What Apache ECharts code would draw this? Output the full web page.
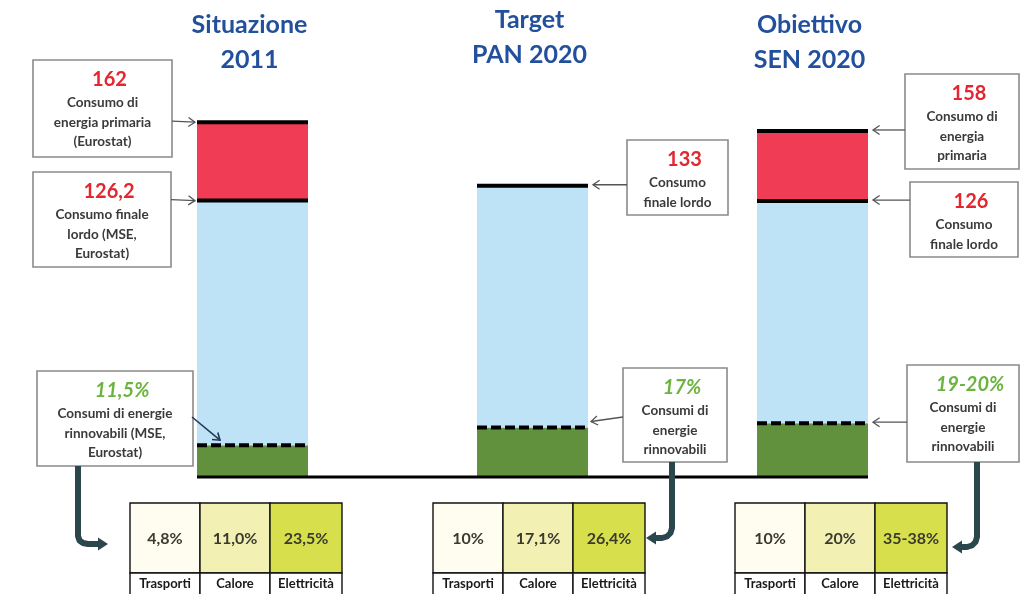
<!DOCTYPE html>
<html>
<head>
<meta charset="utf-8">
<script src="https://cdn.jsdelivr.net/npm/echarts@6/dist/echarts.min.js"></script>
<style>
  html, body { margin: 0; padding: 0; background: #ffffff; }
  #chart { width: 1023px; height: 594px; }
</style>
</head>
<body>
<div id="chart"></div>
<script>
// Scenarios (column headings)
const scenarioTitles = [['Situazione', '2011'], ['Target', 'PAN 2020'], ['Obiettivo', 'SEN 2020']];
// Consumo di energia primaria (Mtep) - not given for the PAN target
const primaryEnergy = [162, null, 158];
// Consumo finale lordo (Mtep)
const finalGross = [126.2, 133, 126];
// Quota di rinnovabili sul consumo finale lordo (%), min / max of the stated range
const renewShareMin = [11.5, 17, 19];
const renewShareMax = [11.5, 17, 20];
// Sector breakdown tables
const sectorNames = ['Trasporti', 'Calore', 'Elettricità'];
const sectorShares = [
  ['4,8%', '11,0%', '23,5%'],
  ['10%', '17,1%', '26,4%'],
  ['10%', '20%', '35-38%']
];

// Derived stack segments
const renewable = finalGross.map((f, i) => f * (renewShareMin[i] + renewShareMax[i]) / 2 / 100);
const finalNonRenew = finalGross.map((f, i) => f - renewable[i]);
const primaryGap = primaryEnergy.map((p, i) => (p == null ? null : p - finalGross[i]));

const FONT = 'Lato, "Open Sans", sans-serif';
const BAR_W = 111;
const HALF = BAR_W / 2;

const fmt = v => String(v).replace('.', ',');
const renewLabel = i => renewShareMin[i] === renewShareMax[i]
  ? fmt(renewShareMin[i]) + '%'
  : fmt(renewShareMin[i]) + '-' + fmt(renewShareMax[i]) + '%';

const chart = echarts.init(document.getElementById('chart'), null, { renderer: 'canvas' });

const option = {
  animation: false,
  backgroundColor: '#ffffff',
  grid: { left: 112.5, right: 70.5, top: 82.8, bottom: 117 },
  xAxis: {
    type: 'category',
    data: scenarioTitles.map(t => t.join(' ')),
    axisLine: { show: false }, axisTick: { show: false }, axisLabel: { show: false },
    splitLine: { show: false }
  },
  yAxis: {
    type: 'value', min: 0, max: 180, show: false, splitLine: { show: false }
  },
  series: [
    {
      name: 'Rinnovabili', type: 'bar', stack: 'tot', barWidth: BAR_W,
      itemStyle: { color: '#62913d' },
      data: renewable
    },
    {
      name: 'Consumo finale lordo', type: 'bar', stack: 'tot', barWidth: BAR_W,
      itemStyle: { color: '#bee2f6' },
      data: finalNonRenew
    },
    {
      name: 'Energia primaria', type: 'bar', stack: 'tot', barWidth: BAR_W,
      itemStyle: { color: '#f03c55' },
      data: primaryGap
    },
    {
      // Level lines on top of each bar: primary, final gross, renewables (dashed)
      name: 'Livelli', type: 'custom', z: 5,
      encode: { x: 0, y: [1, 2, 3] },
      data: finalGross.map((f, i) => [i, primaryEnergy[i] == null ? NaN : primaryEnergy[i], f, renewable[i]]),
      renderItem: function (params, api) {
        const idx = api.value(0);
        const children = [];
        const addLine = (val, dashed) => {
          const p = api.coord([idx, val]);
          children.push({
            type: 'line',
            shape: { x1: p[0] - HALF, y1: p[1], x2: p[0] + HALF, y2: p[1] },
            style: { stroke: '#000000', lineWidth: 4, lineDash: dashed ? [10, 4] : null }
          });
        };
        const prim = api.value(1);
        if (!isNaN(prim)) addLine(prim, false);
        addLine(api.value(2), false);
        addLine(api.value(3), true);
        return { type: 'group', children: children };
      }
    }
  ]
};
chart.setOption(option);

const px = (i, v) => chart.convertToPixel({ gridIndex: 0 }, [i, v]);

const graphics = [];

// Baseline under the bars
{
  const a = px(0, 0), b = px(2, 0);
  graphics.push({
    type: 'line', z: 10,
    shape: { x1: a[0] - HALF, y1: a[1], x2: b[0] + HALF, y2: b[1] },
    style: { stroke: '#000000', lineWidth: 3 }
  });
}

// Column headings
const titleRows = [[25, 60], [20, 55], [25, 60]];
scenarioTitles.forEach((lines, i) => {
  const cx = px(i, 0)[0] - 3;
  lines.forEach((t, k) => {
    graphics.push({
      type: 'text', z: 10,
      style: {
        text: t, x: cx, y: titleRows[i][k], align: 'center', verticalAlign: 'middle',
        font: 'bold 25px ' + FONT, fill: '#23509c'
      }
    });
  });
});

// Thin arrow with an open head
function arrow(x1, y1, x2, y2, color, w) {
  const a = Math.atan2(y2 - y1, x2 - x1), L = 8, s = 0.6;
  return [
    { type: 'line', z: 10, shape: { x1, y1, x2, y2 }, style: { stroke: color, lineWidth: w } },
    {
      type: 'polyline', z: 10,
      shape: {
        points: [
          [x2 - L * Math.cos(a - s), y2 - L * Math.sin(a - s)],
          [x2, y2],
          [x2 - L * Math.cos(a + s), y2 - L * Math.sin(a + s)]
        ]
      },
      style: { stroke: color, lineWidth: w, fill: 'none' }
    }
  ];
}

// Annotation boxes
const boxes = [
  { bar: 0, kind: 'primary', x: 33, y: 60, w: 139, h: 97, lines: ['Consumo di', 'energia primaria', '(Eurostat)'] },
  { bar: 0, kind: 'final', x: 33, y: 172, w: 138, h: 95, lines: ['Consumo finale', 'lordo (MSE,', 'Eurostat)'] },
  { bar: 0, kind: 'renew', x: 37, y: 371, w: 156, h: 95, lines: ['Consumi di energie', 'rinnovabili (MSE,', 'Eurostat)'] },
  { bar: 1, kind: 'final', x: 627, y: 140, w: 101, h: 75, lines: ['Consumo', 'finale lordo'] },
  { bar: 1, kind: 'renew', x: 623, y: 368, w: 104, h: 94, lines: ['Consumi di', 'energie', 'rinnovabili'] },
  { bar: 2, kind: 'primary', x: 905, y: 74, w: 114, h: 95, lines: ['Consumo di', 'energia', 'primaria'] },
  { bar: 2, kind: 'final', x: 910, y: 182, w: 108, h: 75, lines: ['Consumo', 'finale lordo'] },
  { bar: 2, kind: 'renew', x: 907, y: 365, w: 112, h: 97, lines: ['Consumi di', 'energie', 'rinnovabili'] }
];

boxes.forEach(b => {
  let head, headColor;
  let val;
  if (b.kind === 'primary') { val = primaryEnergy[b.bar]; head = fmt(val); headColor = '#e3262f'; }
  else if (b.kind === 'final') { val = finalGross[b.bar]; head = fmt(val); headColor = '#e3262f'; }
  else { val = renewable[b.bar]; head = renewLabel(b.bar); headColor = '#6cb33f'; }

  graphics.push({
    type: 'rect', z: 9,
    shape: { x: b.x, y: b.y, width: b.w, height: b.h },
    style: { fill: '#ffffff', stroke: '#8a8a8a', lineWidth: 1.6 }
  });
  const cx = b.x + b.w / 2;
  graphics.push({
    type: 'text', z: 10,
    style: {
      text: head, x: cx + 7, y: b.y + 20, align: 'center', verticalAlign: 'middle',
      font: (b.kind === 'renew' ? 'italic bold 20px ' : 'bold 20px ') + FONT, fill: headColor
    }
  });
  b.lines.forEach((t, k) => {
    graphics.push({
      type: 'text', z: 10,
      style: {
        text: t, x: cx, y: b.y + 43 + k * 19.5, align: 'center', verticalAlign: 'middle',
        font: 'bold 13.5px ' + FONT, fill: '#3a3a3a'
      }
    });
  });

  // Pointer from the box to the level it describes
  const p = px(b.bar, val);
  if (b.bar === 0) {
    if (b.kind === 'renew') {
      graphics.push(...arrow(b.x + b.w - 1, b.y + 46, p[0] - HALF + 23, p[1] - 5, '#22395a', 1.6));
    } else {
      graphics.push(...arrow(b.x + b.w, p[1] - 1, p[0] - HALF - 2, p[1], '#555555', 1.3));
    }
  } else {
    if (b.kind === 'renew' && b.bar === 1) {
      graphics.push(...arrow(b.x, b.y + 49, p[0] + HALF + 3, p[1] - 6, '#555555', 1.3));
    } else {
      graphics.push(...arrow(b.x, p[1] - 1, p[0] + HALF + 5, p[1] - 1, '#555555', 1.3));
    }
  }
});

// Thick connectors from the renewables boxes to the sector tables
const CONN = '#2b474d';
const connectors = [
  { pts: [[78, 466], [78, 536], [79.5, 540.5], [83, 543], [88, 544], [100, 544]], tip: [108, 544], dir: 1 },
  { pts: [[672, 462], [672, 528], [670.5, 533], [667, 536.5], [662, 538], [654, 538]], tip: [646, 538], dir: -1 },
  { pts: [[977, 462], [977, 537], [975.5, 542], [972, 545.5], [967, 547], [960, 547]], tip: [952, 547], dir: -1 }
];
connectors.forEach(c => {
  graphics.push({
    type: 'polyline', z: 10, shape: { points: c.pts },
    style: { stroke: CONN, lineWidth: 6, fill: 'none', lineJoin: 'round' }
  });
  const [tx, ty] = c.tip;
  graphics.push({
    type: 'polygon', z: 10,
    shape: { points: [[tx, ty], [tx - c.dir * 10, ty - 6.5], [tx - c.dir * 10, ty + 6.5]] },
    style: { fill: CONN }
  });
});

// Sector tables
const tableLeft = [130, 433, 735];
const colW = [70, 70, 72];
const cellFill = ['#fffdf0', '#f3f0b4', '#d7e04c'];
const TOP = 503, ROW1 = 70, ROW2 = 30;
tableLeft.forEach((x0, t) => {
  let x = x0;
  sectorNames.forEach((name, c) => {
    graphics.push({
      type: 'rect', z: 9,
      shape: { x: x, y: TOP, width: colW[c], height: ROW1 },
      style: { fill: cellFill[c], stroke: '#111111', lineWidth: 1.4 }
    });
    graphics.push({
      type: 'rect', z: 9,
      shape: { x: x, y: TOP + ROW1, width: colW[c], height: ROW2 },
      style: { fill: '#ffffff', stroke: '#111111', lineWidth: 1.4 }
    });
    graphics.push({
      type: 'text', z: 10,
      style: {
        text: sectorShares[t][c], x: x + colW[c] / 2, y: TOP + ROW1 / 2 + 1,
        align: 'center', verticalAlign: 'middle', font: 'bold 16px ' + FONT, fill: '#3a3a30'
      }
    });
    graphics.push({
      type: 'text', z: 10,
      style: {
        text: name, x: x + colW[c] / 2, y: TOP + ROW1 + 11,
        align: 'center', verticalAlign: 'middle', font: 'bold 13px ' + FONT, fill: '#1a1a1a'
      }
    });
    x += colW[c];
  });
});

chart.setOption({ graphic: { elements: graphics } });
</script>
</body>
</html>
